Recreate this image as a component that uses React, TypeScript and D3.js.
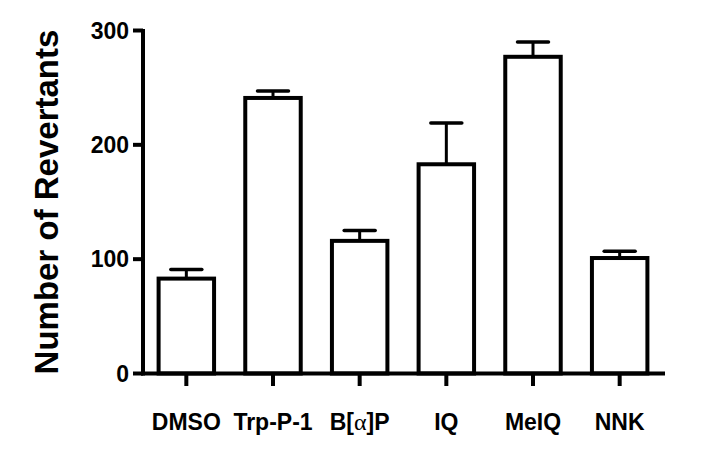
import React from "react";
import * as d3 from "d3";

const categories = ["DMSO", "Trp-P-1", "B[α]P", "IQ", "MeIQ", "NNK"];
const means = [83, 241, 116, 183, 277, 101];
const errors = [8, 6, 9, 36, 13, 6];
const yTicks = [0, 100, 200, 300];

const W = 706;
const H = 462;
const FONT = "'Liberation Sans', Arial, Helvetica, sans-serif";

export default function App() {
  const x = d3
    .scaleBand<string>()
    .domain(categories)
    .range([143, 663])
    .paddingInner(0.36)
    .paddingOuter(0.18);
  const y = d3.scaleLinear().domain([0, 300]).range([373.5, 30.5]);
  const bw = x.bandwidth();
  const capW = 31;

  const renderLabel = (c: string) => {
    if (c.includes("α")) {
      const [a, b] = c.split("α");
      return (
        <>
          {a}
          <tspan fontFamily="'Liberation Serif', 'DejaVu Serif', serif" fontWeight="normal" fontSize={24}>α</tspan>
          {b}
        </>
      );
    }
    return c;
  };

  return (
    <svg
      width={W}
      height={H}
      style={{ position: "absolute", left: 0, top: 0, background: "#fff" }}
    >
      <rect x={0} y={0} width={W} height={H} fill="#fff" />
      {/* bars */}
      {categories.map((c, i) => {
        const x0 = x(c)!;
        const cx = x0 + bw / 2;
        const top = y(means[i]);
        const et = y(means[i] + errors[i]);
        return (
          <g key={c}>
            <rect
              x={x0}
              y={top}
              width={bw}
              height={y(0) - top}
              fill="#fff"
              stroke="#000"
              strokeWidth={4}
            />
            <line x1={cx} x2={cx} y1={top} y2={et} stroke="#000" strokeWidth={3} />
            <line
              x1={cx - capW / 2}
              x2={cx + capW / 2}
              y1={et}
              y2={et}
              stroke="#000"
              strokeWidth={3.5}
              strokeLinecap="round"
            />
          </g>
        );
      })}
      {/* y axis */}
      <line x1={143} x2={143} y1={y(300) - 1.5} y2={y(0) + 2} stroke="#000" strokeWidth={4} />
      {yTicks.map((t) => (
        <g key={t}>
          <line x1={133} x2={143} y1={y(t)} y2={y(t)} stroke="#000" strokeWidth={4} />
          <text
            x={129}
            y={y(t) + 8}
            textAnchor="end"
            fontFamily={FONT}
            fontWeight="bold"
            fontSize={23}
            fill="#000"
          >
            {t}
          </text>
        </g>
      ))}
      {/* x axis */}
      <line x1={141} x2={665} y1={y(0)} y2={y(0)} stroke="#000" strokeWidth={4} />
      {categories.map((c) => {
        const cx = x(c)! + bw / 2;
        return (
          <g key={"t" + c}>
            <line x1={cx} x2={cx} y1={y(0)} y2={386} stroke="#000" strokeWidth={4} />
            <text
              x={cx}
              y={430}
              textAnchor="middle"
              fontFamily={FONT}
              fontWeight="bold"
              fontSize={23}
              fill="#000"
            >
              {renderLabel(c)}
            </text>
          </g>
        );
      })}
      {/* y title */}
      <text
        transform={`translate(58, 202) rotate(-90)`}
        textAnchor="middle"
        fontFamily={FONT}
        fontWeight="bold"
        fontSize={33}
        fill="#000"
      >
        Number of Revertants
      </text>
    </svg>
  );
}
